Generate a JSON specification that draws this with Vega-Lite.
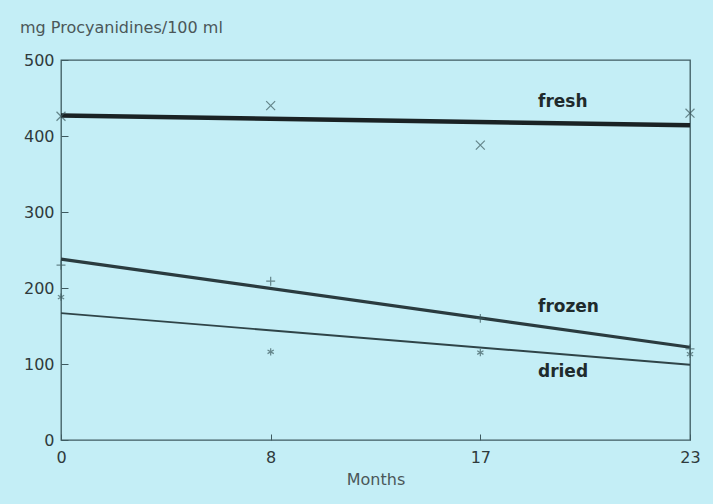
{
  "$schema": "https://vega.github.io/schema/vega-lite/v6.json",
  "width": 629,
  "height": 380,
  "autosize": {"type": "none"},
  "padding": {"left": 61, "top": 60, "right": 23, "bottom": 64},
  "background": "#c4eef6",
  "config": {
    "font": "DejaVu Sans",
    "view": {"stroke": "#3e5a60", "strokeWidth": 1.3}
  },
  "title": {
    "text": "mg Procyanidines/100 ml",
    "anchor": "start",
    "frame": "group",
    "dx": -41,
    "offset": 16,
    "fontSize": 16,
    "fontWeight": "normal",
    "color": "#4b5759"
  },
  "datasets": {
    "points": [
      {"series": "fresh", "month": 0, "value": 426},
      {"series": "fresh", "month": 8, "value": 440},
      {"series": "fresh", "month": 17, "value": 388},
      {"series": "fresh", "month": 23, "value": 430},
      {"series": "frozen", "month": 0, "value": 230},
      {"series": "frozen", "month": 8, "value": 209},
      {"series": "frozen", "month": 17, "value": 160},
      {"series": "frozen", "month": 23, "value": 120},
      {"series": "dried", "month": 0, "value": 188},
      {"series": "dried", "month": 8, "value": 116},
      {"series": "dried", "month": 17, "value": 115},
      {"series": "dried", "month": 23, "value": 113}
    ],
    "fits": [
      {"series": "fresh", "month": 0, "value": 427},
      {"series": "fresh", "month": 23, "value": 414},
      {"series": "frozen", "month": 0, "value": 238},
      {"series": "frozen", "month": 23, "value": 122},
      {"series": "dried", "month": 0, "value": 167},
      {"series": "dried", "month": 23, "value": 99}
    ],
    "labels": [
      {"label": "fresh", "month": 18.65, "value": 445},
      {"label": "frozen", "month": 18.65, "value": 175},
      {"label": "dried", "month": 18.65, "value": 89}
    ]
  },
  "encoding": {
    "x": {
      "field": "month",
      "type": "quantitative",
      "scale": {"domain": [0, 8, 17, 23], "range": [0, 209.67, 419.33, 629]},
      "axis": {
        "values": [0, 8, 17, 23],
        "title": "Months",
        "grid": false,
        "domain": false,
        "labelFlush": false,
        "tickSize": -6,
        "tickColor": "#3e5a60",
        "labelPadding": 15,
        "labelFontSize": 16,
        "labelColor": "#2f3a3c",
        "titleFontSize": 16,
        "titleFontWeight": "normal",
        "titleColor": "#4b5759",
        "titlePadding": 6
      }
    },
    "y": {
      "field": "value",
      "type": "quantitative",
      "scale": {"domain": [0, 500], "nice": false},
      "axis": {
        "values": [0, 100, 200, 300, 400, 500],
        "title": null,
        "grid": false,
        "domain": false,
        "tickSize": -7,
        "tickColor": "#3e5a60",
        "labelPadding": 14,
        "labelFontSize": 16,
        "labelColor": "#2f3a3c"
      }
    }
  },
  "layer": [
    {
      "data": {"name": "fits"},
      "mark": {"type": "line"},
      "encoding": {
        "detail": {"field": "series"},
        "color": {
          "field": "series",
          "scale": {"domain": ["fresh", "frozen", "dried"], "range": ["#1a2224", "#2a3b3f", "#2f4448"]},
          "legend": null
        },
        "strokeWidth": {
          "field": "series",
          "scale": {"domain": ["fresh", "frozen", "dried"], "range": [4.5, 1.9, 1.5]},
          "legend": null
        }
      }
    },
    {
      "data": {"name": "points"},
      "mark": {"type": "point", "filled": false, "color": "#3d5a5e", "strokeWidth": 1.2, "size": 80},
      "encoding": {
        "shape": {
          "field": "series",
          "scale": {
            "domain": ["fresh", "frozen", "dried"],
            "range": [
              "M-1,-1L1,1M-1,1L1,-1",
              "M-1,0L1,0M0,-1L0,1",
              "M0,-0.8L0,0.8M-0.7,-0.4L0.7,0.4M-0.7,0.4L0.7,-0.4"
            ]
          },
          "legend": null
        }
      }
    },
    {
      "data": {"name": "labels"},
      "mark": {"type": "text", "align": "left", "baseline": "middle", "fontSize": 17, "fontWeight": "bold", "color": "#1f2a2c"},
      "encoding": {
        "text": {"field": "label"}
      }
    }
  ]
}
